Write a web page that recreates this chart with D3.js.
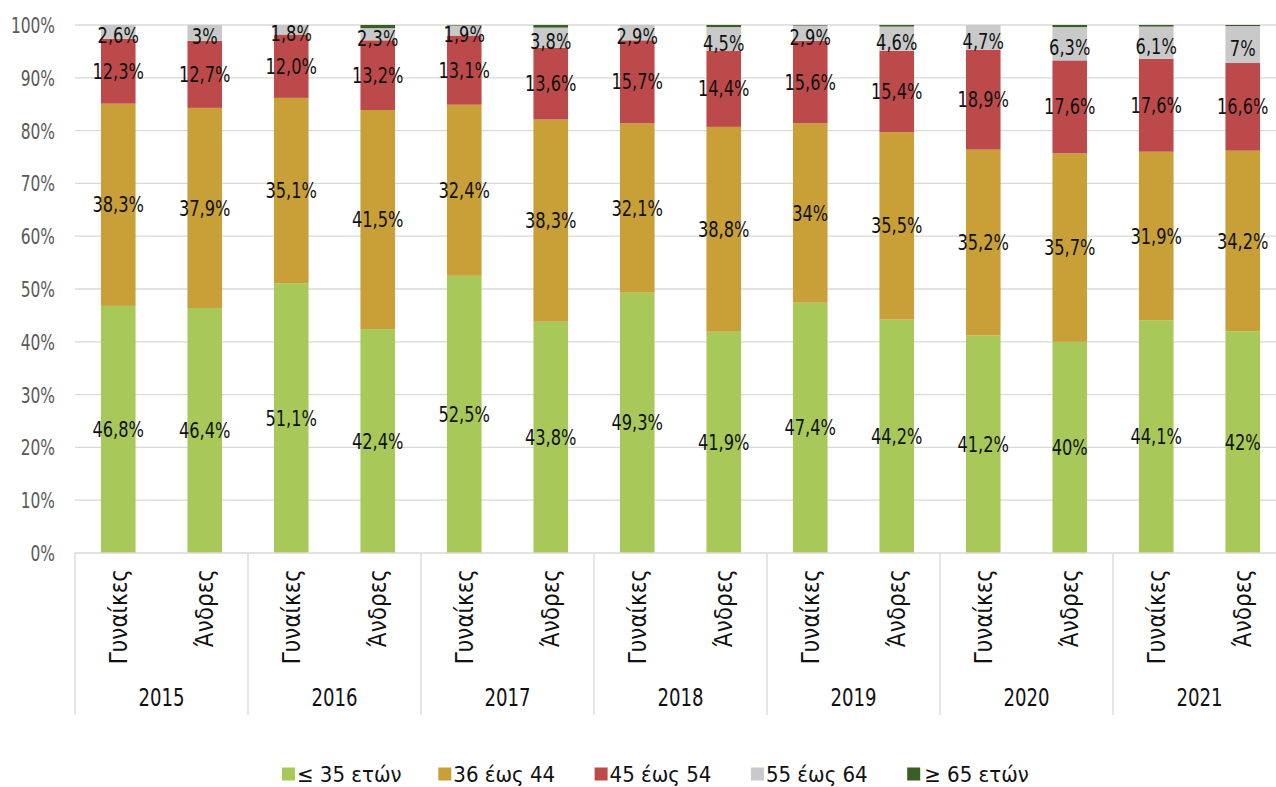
<!DOCTYPE html>
<html>
<head>
<meta charset="utf-8">
<script src="https://cdn.jsdelivr.net/npm/d3@7"></script>
<style>
  body { margin: 0; background: #fff; }
  svg text { font-family: "DejaVu Sans Condensed", "DejaVu Sans", sans-serif; }
</style>
</head>
<body>
<svg width="1276" height="787"></svg>
<script>
var years = ["2015", "2016", "2017", "2018", "2019", "2020", "2021"];
var genders = ["Γυναίκες", "Άνδρες"];
var groups = ["≤ 35 ετών", "36 έως 44", "45 έως 54", "55 έως 64", "≥ 65 ετών"];
var colors = ["#a8c95a", "#c99f38", "#bd4a4b", "#c9c9c9", "#3b5e24"];

// one entry per bar: 2015 Γ, 2015 Α, 2016 Γ, ...
var s35 = ["46.8", "46.4", "51.1", "42.4", "52.5", "43.8", "49.3", "41.9", "47.4", "44.2", "41.2", "40", "44.1", "42"];
var s36_44 = ["38.3", "37.9", "35.1", "41.5", "32.4", "38.3", "32.1", "38.8", "34", "35.5", "35.2", "35.7", "31.9", "34.2"];
var s45_54 = ["12.3", "12.7", "12.0", "13.2", "13.1", "13.6", "15.7", "14.4", "15.6", "15.4", "18.9", "17.6", "17.6", "16.6"];
var s55_64 = ["2.6", "3", "1.8", "2.3", "1.9", "3.8", "2.9", "4.5", "2.9", "4.6", "4.7", "6.3", "6.1", "7"];
var s65 = ["0", "0", "0", "0.6", "0.1", "0.5", "0", "0.4", "0.1", "0.3", "0", "0.4", "0.3", "0.2"];
var series = [s35, s36_44, s45_54, s55_64, s65];
var yTicks = [0, 10, 20, 30, 40, 50, 60, 70, 80, 90, 100];

var svg = d3.select("svg");
var margin = {top: 25, left: 75};
var plotH = 528;
var bandW = 86.5;

var bars = [];
years.forEach(function(y, yi) {
  genders.forEach(function(g, gi) { bars.push({key: y + "|" + g, year: y, gender: g, i: yi * 2 + gi}); });
});

var x = d3.scaleBand().domain(bars.map(function(d) { return d.key; }))
    .range([margin.left, margin.left + bandW * bars.length]).paddingInner(0.6).paddingOuter(0.3);
var y = d3.scaleLinear().domain([0, 100]).range([margin.top + plotH, margin.top]);

// narrow text: the original font is condensed
function squeeze(tx, ty, sx) { return "translate(" + tx + "," + ty + ") scale(" + sx + ",1)"; }

// gridlines
svg.append("g").selectAll("line").data(yTicks.slice(1)).enter().append("line")
    .attr("x1", margin.left).attr("x2", 1276)
    .attr("y1", function(d) { return y(d); }).attr("y2", function(d) { return y(d); })
    .attr("stroke", "#d9d9d9").attr("stroke-width", 1.3);

// y axis labels
svg.append("g").selectAll("text").data(yTicks).enter().append("text")
    .attr("transform", function(d) { return squeeze(55, y(d), 0.78); })
    .attr("dy", "0.36em")
    .attr("text-anchor", "end").attr("fill", "#595959").style("font-size", "22px")
    .text(function(d) { return d + "%"; });

// stacking
var rows = bars.map(function(b) {
  var r = {key: b.key};
  groups.forEach(function(g, k) { r[g] = +series[k][b.i]; });
  return r;
});
var stack = d3.stack().keys(groups)(rows);

var layer = svg.append("g").selectAll("g").data(stack).enter().append("g")
    .attr("fill", function(d, k) { return colors[k]; });
layer.selectAll("rect").data(function(d) { return d; }).enter().append("rect")
    .attr("x", function(d) { return x(d.data.key); })
    .attr("width", x.bandwidth())
    .attr("y", function(d) { return y(d[1]); })
    .attr("height", function(d) { return y(d[0]) - y(d[1]); });

// value labels (first four series)
stack.slice(0, 4).forEach(function(sr, k) {
  svg.append("g").selectAll("text").data(sr).enter().append("text")
      .attr("transform", function(d) {
        return squeeze(x(d.data.key) + x.bandwidth() / 2, y((d[0] + d[1]) / 2), 0.86);
      })
      .attr("dy", k == 3 ? "0.55em" : "0.36em")
      .attr("text-anchor", "middle").attr("fill", "#111").style("font-size", "21px")
      .text(function(d, i) { return series[k][i].replace(".", ",") + "%"; });
});

// x axis
var base = y(0);
svg.append("line").attr("x1", margin.left).attr("x2", 1276).attr("y1", base).attr("y2", base)
    .attr("stroke", "#d9d9d9").attr("stroke-width", 1.3);
var sepX = years.map(function(d, i) { return margin.left + i * bandW * 2; });
svg.append("g").selectAll("line").data(sepX).enter().append("line")
    .attr("x1", function(d) { return d; }).attr("x2", function(d) { return d; })
    .attr("y1", base).attr("y2", 715)
    .attr("stroke", "#d9d9d9").attr("stroke-width", 1.3);

svg.append("g").selectAll("text").data(bars).enter().append("text")
    .attr("transform", function(d) { return "translate(" + (x(d.key) + x.bandwidth() / 2) + "," + 569 + ") rotate(-90)"; })
    .attr("dy", "0.36em").attr("text-anchor", "end").attr("fill", "#111").style("font-size", "24px")
    .text(function(d) { return d.gender; });

svg.append("g").selectAll("text").data(years).enter().append("text")
    .attr("transform", function(d, i) { return squeeze(margin.left + i * bandW * 2 + bandW, 697, 0.84); })
    .attr("dy", "0.36em")
    .attr("text-anchor", "middle").attr("fill", "#111").style("font-size", "24px")
    .text(function(d) { return d; });

// legend
var leg = svg.append("g").selectAll("g").data(groups).enter().append("g")
    .attr("transform", function(d, i) { return "translate(" + (282 + i * 156.3) + ",774)"; });
leg.append("rect").attr("x", 0).attr("y", -6.5).attr("width", 13).attr("height", 13)
    .attr("fill", function(d, i) { return colors[i]; });
leg.append("text").attr("x", function(d, i) { return i == 4 ? 17 : 15; }).attr("dy", "0.36em")
    .attr("fill", "#111").style("font-size", "22px")
    .text(function(d) { return d; });
</script>
</body>
</html>
